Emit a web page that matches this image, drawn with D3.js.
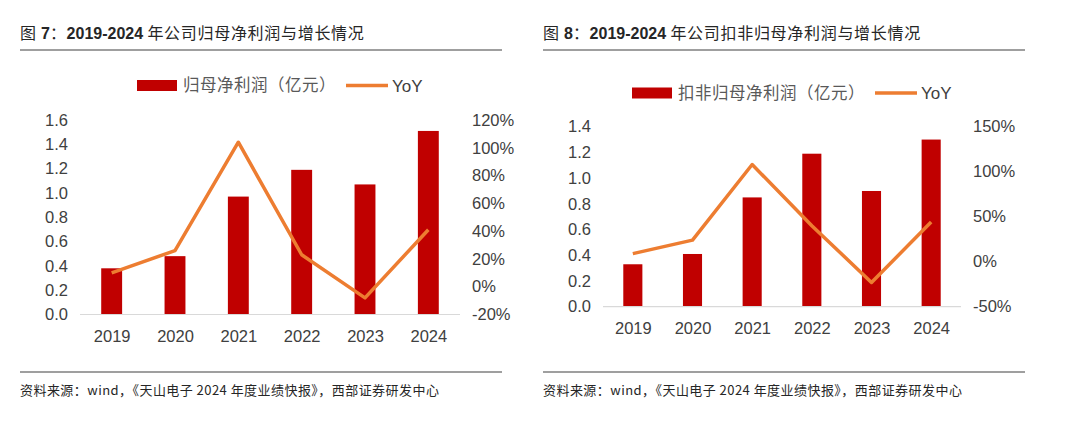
<!DOCTYPE html>
<html>
<head>
<meta charset="utf-8">
<script src="https://cdn.jsdelivr.net/npm/d3@7"></script>
<style>
  body { margin: 0; background: #fff; }
  svg { display: block; }
</style>
</head>
<body>
<svg id="chart" width="1080" height="433"></svg>
<script>
// data
var years = ['2019', '2020', '2021', '2022', '2023', '2024'];

var profitTitle = ['图 ', '7', '：', '2019-2024', ' 年公司归母净利润与增长情况'];
var profitLegend = '归母净利润（亿元）';
var profitValues = [0.38, 0.48, 0.97, 1.19, 1.07, 1.51];
var profitYoY = [10, 26, 104, 23, -8, 41];
var profitLeftTicks = [0, 0.2, 0.4, 0.6, 0.8, 1.0, 1.2, 1.4, 1.6];
var profitRightTicks = [-20, 0, 20, 40, 60, 80, 100, 120];

var deductTitle = ['图 ', '8', '：', '2019-2024', ' 年公司扣非归母净利润与增长情况'];
var deductLegend = '扣非归母净利润（亿元）';
var deductValues = [0.33, 0.41, 0.85, 1.19, 0.90, 1.30];
var deductYoY = [9, 24, 108, 40, -23, 44];
var deductLeftTicks = [0, 0.2, 0.4, 0.6, 0.8, 1.0, 1.2, 1.4];
var deductRightTicks = [-50, 0, 50, 100, 150];

var sourceText = '资料来源：wind，《天山电子 2024 年度业绩快报》，西部证券研发中心';

var barColor = '#c00000';
var lineColor = '#ed7d31';
var textColor = '#404040';
var cjkFont = '"Noto Sans CJK SC", sans-serif';
var latinFont = '"Liberation Sans", Arial, sans-serif';

var svg = d3.select('#chart');

function drawPanel(opt) {
    var g = svg.append('g');

    // title: CJK parts regular, latin parts bold
    var title = g.append('text')
        .attr('x', opt.left)
        .attr('y', 39)
        .attr('fill', '#262626')
        .attr('font-size', 16);
    opt.title.forEach(function(part, i) {
        var isLatin = i === 1 || i === 3;
        title.append('tspan')
            .attr('font-family', isLatin ? latinFont : cjkFont)
            .attr('font-weight', isLatin ? 'bold' : 'normal')
            .attr('letter-spacing', isLatin ? 0 : 0.7)
            .text(part);
    });

    g.append('line')
        .attr('x1', opt.left).attr('x2', opt.right)
        .attr('y1', 50).attr('y2', 50)
        .attr('stroke', '#7f7f7f').attr('stroke-width', 1.5);

    g.append('line')
        .attr('x1', opt.left).attr('x2', opt.right)
        .attr('y1', 372).attr('y2', 372)
        .attr('stroke', '#7f7f7f').attr('stroke-width', 1.5);

    g.append('text')
        .attr('x', opt.left)
        .attr('y', 395)
        .attr('font-size', 13)
        .attr('letter-spacing', 0.45)
        .attr('font-family', cjkFont)
        .attr('fill', '#262626')
        .text(sourceText);

    // scales
    var x = d3.scaleBand()
        .domain(years)
        .range([opt.plotX0, opt.plotX1])
        .paddingInner(opt.barPad)
        .paddingOuter(opt.barPad / 2);

    var xPoint = d3.scalePoint()
        .domain(years)
        .range([opt.plotX0, opt.plotX1])
        .padding(0.5);

    var yLeft = d3.scaleLinear()
        .domain([opt.leftTicks[0], opt.leftTicks[opt.leftTicks.length - 1]])
        .range([opt.plotY0, opt.plotY1]);

    var yRight = d3.scaleLinear()
        .domain([opt.rightTicks[0], opt.rightTicks[opt.rightTicks.length - 1]])
        .range([opt.plotY0, opt.plotY1]);

    // bars
    g.selectAll('.bar')
        .data(opt.values)
        .join('rect')
        .attr('class', 'bar')
        .attr('x', (d, i) => x(years[i]))
        .attr('width', x.bandwidth())
        .attr('y', d => yLeft(d))
        .attr('height', d => yLeft(0) - yLeft(d))
        .attr('fill', barColor);

    // x axis line
    g.append('line')
        .attr('x1', opt.plotX0).attr('x2', opt.plotX1)
        .attr('y1', yLeft(0)).attr('y2', yLeft(0))
        .attr('stroke', '#d9d9d9').attr('stroke-width', 1.2);

    // yoy line
    var line = d3.line()
        .x((d, i) => xPoint(years[i]))
        .y(d => yRight(d));

    g.append('path')
        .datum(opt.yoy)
        .attr('d', line)
        .attr('fill', 'none')
        .attr('stroke', lineColor)
        .attr('stroke-width', 3.5)
        .attr('stroke-linejoin', 'round');

    // axes labels
    var leftAxis = d3.axisLeft(yLeft)
        .tickValues(opt.leftTicks)
        .tickFormat(d3.format('.1f'))
        .tickSize(0)
        .tickPadding(12);

    var rightAxis = d3.axisRight(yRight)
        .tickValues(opt.rightTicks)
        .tickFormat(d => d + '%')
        .tickSize(0)
        .tickPadding(12);

    var bottomAxis = d3.axisBottom(xPoint)
        .tickSize(0)
        .tickPadding(16);

    [[leftAxis, 'translate(' + opt.plotX0 + ',0)'],
     [rightAxis, 'translate(' + opt.plotX1 + ',0)'],
     [bottomAxis, 'translate(0,' + yLeft(0) + ')']].forEach(function(a) {
        var ax = g.append('g').attr('transform', a[1]).call(a[0]);
        ax.select('.domain').remove();
        ax.selectAll('text')
            .attr('font-family', latinFont)
            .attr('font-size', 16.5)
            .attr('fill', textColor);
    });

    // legend
    var lg = g.append('g');
    lg.append('rect')
        .attr('x', opt.legendX).attr('y', opt.legendY - 5.5)
        .attr('width', 40).attr('height', 11)
        .attr('fill', barColor);
    var legendText = lg.append('text')
        .attr('x', opt.legendX + 46)
        .attr('y', opt.legendY)
        .attr('dy', '0.36em')
        .attr('font-family', cjkFont)
        .attr('font-size', 16.5)
        .attr('letter-spacing', 0.5)
        .attr('fill', '#595959')
        .text(opt.legend);
    var textEnd = opt.legendX + 46 + legendText.node().getComputedTextLength();
    lg.append('line')
        .attr('x1', textEnd + 10).attr('x2', textEnd + 52)
        .attr('y1', opt.legendY).attr('y2', opt.legendY)
        .attr('stroke', lineColor).attr('stroke-width', 3.5);
    lg.append('text')
        .attr('x', textEnd + 56)
        .attr('y', opt.legendY)
        .attr('dy', '0.36em')
        .attr('font-family', latinFont)
        .attr('font-size', 17)
        .attr('fill', textColor)
        .text('YoY');
}

drawPanel({
    left: 20, right: 502,
    title: profitTitle, legend: profitLegend,
    values: profitValues, yoy: profitYoY,
    leftTicks: profitLeftTicks, rightTicks: profitRightTicks,
    plotX0: 80, plotX1: 460, plotY0: 314.5, plotY1: 120,
    barPad: 0.67,
    legendX: 137, legendY: 85.5
});

drawPanel({
    left: 543, right: 1025,
    title: deductTitle, legend: deductLegend,
    values: deductValues, yoy: deductYoY,
    leftTicks: deductLeftTicks, rightTicks: deductRightTicks,
    plotX0: 603, plotX1: 961, plotY0: 306.7, plotY1: 126.7,
    barPad: 0.68,
    legendX: 632, legendY: 93
});
</script>
</body>
</html>
